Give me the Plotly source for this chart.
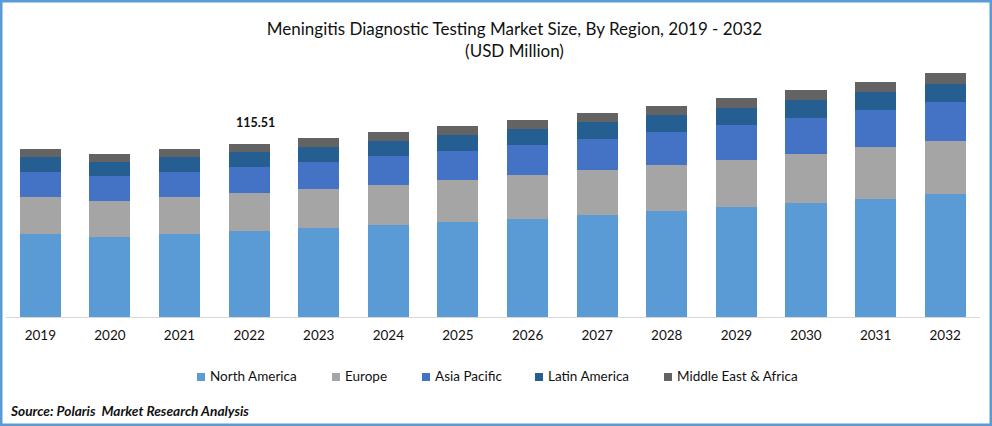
import plotly.graph_objects as go

years = ["2019","2020","2021","2022","2023","2024","2025","2026","2027","2028","2029","2030","2031","2032"]
north_america = [55.4,53.4,55.4,57.4,59.4,61.4,63.4,65.4,68.1,70.8,73.4,76.1,78.8,82.1]
europe = [24.7,24.0,24.7,25.4,26.0,26.7,28.0,29.4,30.0,30.7,31.4,32.7,34.7,35.4]
asia_pacific = [16.7,16.7,16.7,17.4,18.0,19.4,19.4,20.0,20.7,22.0,23.4,24.0,24.7,26.0]
latin_america = [10.0,9.3,10.0,10.0,10.0,10.0,10.7,10.7,11.4,11.4,11.4,12.0,12.0,12.0]
middle_east = [5.3,5.3,5.3,5.3,6.0,6.0,6.0,6.0,6.0,6.0,6.7,6.7,6.7,7.3]
series = [
    ("North America", north_america, "#5B9BD5"),
    ("Europe", europe, "#A5A5A5"),
    ("Asia Pacific", asia_pacific, "#4472C4"),
    ("Latin America", latin_america, "#255E91"),
    ("Middle East & Africa", middle_east, "#636363"),
]
legend_swatch_left = [197, 332, 422, 535, 664]
W, H = 992, 426
FONT = "Lato, Carlito, Calibri, sans-serif"
TEXT = "#111111"

fig = go.Figure()
for name, vals, col in series:
    fig.add_bar(x=years, y=vals, name=name, marker=dict(color=col, line=dict(width=0)))

i22 = years.index("2022")
total22 = sum(s[1][i22] for s in series)

shapes = [dict(type="rect", xref="paper", yref="paper", x0=1.25/W, x1=1-1.25/W, y0=1.25/H, y1=1-1.25/H,
               line=dict(color="#5B9BD5", width=2.5), fillcolor="rgba(0,0,0,0)")]
annotations = [
    dict(x=i22, y=total22, text="<b>115.51</b>", showarrow=False, yanchor="bottom", yshift=12, xshift=6,
         font=dict(size=12.5, color=TEXT)),
    dict(xref="paper", yref="paper", x=8/W, y=1-410/H, xanchor="left", yanchor="middle", showarrow=False,
         text="<b><i>Source: Polaris  Market Research Analysis</i></b>", font=dict(size=13.7, color=TEXT)),
]
for (name, vals, col), sx in zip(series, legend_swatch_left):
    shapes.append(dict(type="rect", xref="paper", yref="paper", x0=sx/W, x1=(sx+8)/W, y0=1-381/H, y1=1-373/H,
                       line=dict(width=0), fillcolor=col))
    annotations.append(dict(xref="paper", yref="paper", x=(sx+11)/W, y=1-376/H, xanchor="left", yanchor="middle",
                            showarrow=False, text=name, font=dict(size=13.5, color=TEXT)))

fig.update_layout(
    width=W, height=H, margin=dict(l=0, r=0, t=0, b=0, autoexpand=False),
    barmode="stack", bargap=0.41, paper_bgcolor="white", plot_bgcolor="white",
    font=dict(family=FONT, color=TEXT, size=13), showlegend=False,
    title=dict(text="Meningitis Diagnostic Testing Market Size, By Region, 2019 - 2032<br>(USD Million)",
               x=514.5/W, xanchor="center", y=1-35/H, yanchor="top",
               font=dict(family=FONT, size=17, color=TEXT)),
    xaxis=dict(domain=[5.5/W, 980/W], type="category", range=[-0.5, 13.5], showgrid=False, showline=True,
               linecolor="#D9D9D9", linewidth=1, ticks="", ticklabelstandoff=6,
               tickfont=dict(size=13.5, color=TEXT)),
    yaxis=dict(domain=[(H-317)/H, (H-60)/H], range=[0, 171.6], visible=False),
    shapes=shapes,
    annotations=annotations,
)
fig.write_html("out.html", config=dict(displayModeBar=False),
               post_script="document.body.style.margin='0';document.body.style.overflow='hidden';")
